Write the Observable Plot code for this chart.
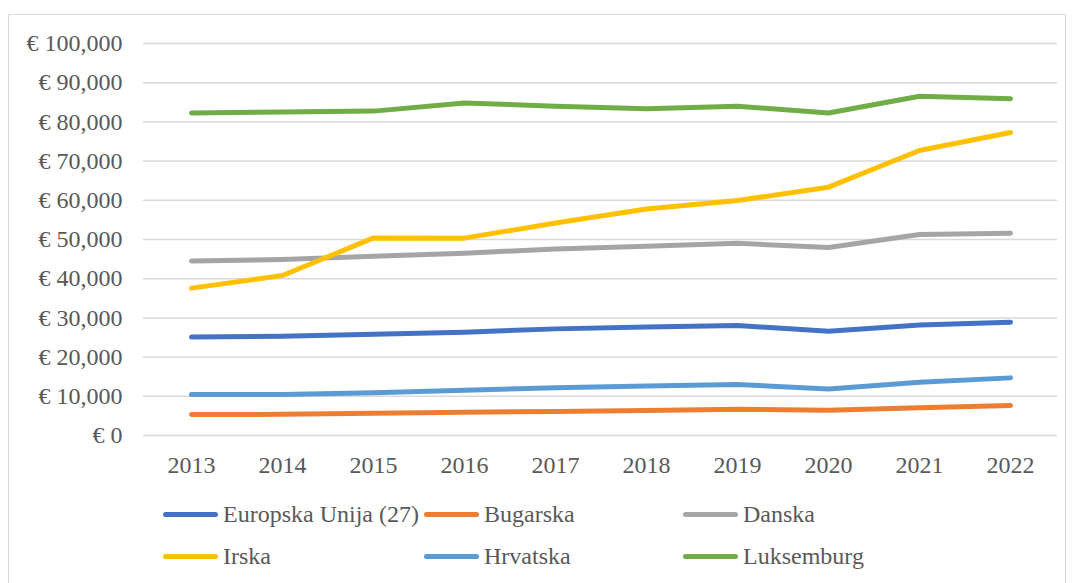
<!DOCTYPE html>
<html>
<head>
<meta charset="utf-8">
<script src="https://cdn.jsdelivr.net/npm/d3@7"></script>
<script src="https://cdn.jsdelivr.net/npm/@observablehq/plot@0.6"></script>
<style>
  html, body { margin: 0; padding: 0; background: #fff; }
  #wrap { position: relative; width: 1072px; height: 583px; overflow: hidden; font-family: 'Liberation Serif', 'Times New Roman', serif; color: #595959; }
  #frame { position: absolute; left: 8px; top: 14px; width: 1058px; height: 600px; border: 1px solid #d9d9d9; box-sizing: border-box; }
  #chart { position: absolute; left: 0; top: 0; }
  #chart svg text { font-family: 'Liberation Serif', 'Times New Roman', serif; }
  .leg { position: absolute; display: flex; align-items: center; font-size: 24px; line-height: 1; white-space: nowrap; height: 24px; }
  .sw { width: 55px; height: 5px; border-radius: 3px; margin-right: 5px; }
</style>
</head>
<body>
<div id="wrap">
  <div id="frame"></div>
  <div id="chart"></div>
  <div id="legend"></div>
</div>
<script>
const years = [2013, 2014, 2015, 2016, 2017, 2018, 2019, 2020, 2021, 2022];
const names = ["Europska Unija (27)", "Bugarska", "Danska", "Irska", "Hrvatska", "Luksemburg"];
const colors = ["#4472C4", "#ED7D31", "#A5A5A5", "#FFC000", "#5B9BD5", "#70AD47"];
const eu27 = [25100, 25350, 25800, 26350, 27200, 27700, 28050, 26600, 28200, 28900];
const bugarska = [5350, 5400, 5700, 5950, 6150, 6400, 6700, 6450, 7050, 7650];
const danska = [44500, 44900, 45700, 46500, 47600, 48300, 49050, 47950, 51300, 51600];
const irska = [37600, 40800, 50400, 50350, 54200, 57800, 59950, 63350, 72700, 77300];
const hrvatska = [10450, 10450, 10900, 11550, 12150, 12600, 13000, 11850, 13600, 14700];
const luksemburg = [82300, 82500, 82750, 84850, 84000, 83350, 84000, 82250, 86550, 85900];
const yTicks = [0, 10000, 20000, 30000, 40000, 50000, 60000, 70000, 80000, 90000, 100000];

const seriesValues = [eu27, bugarska, danska, irska, hrvatska, luksemburg];
const data = names.flatMap((n, si) => years.map((y, i) => ({year: y, value: seriesValues[si][i], name: n})));

const fmt = d3.format(",");
const chart = Plot.plot({
  width: 1072,
  height: 480,
  marginLeft: 143,
  marginRight: 15,
  marginTop: 43,
  marginBottom: 45,
  style: {fontFamily: "'Liberation Serif', 'Times New Roman', serif", fontSize: "24px", color: "#595959", background: "transparent", overflow: "visible"},
  x: {type: "point", domain: years, padding: 0.5},
  y: {domain: [0, 100000]},
  color: {domain: names, range: colors},
  marks: [
    Plot.gridY(yTicks, {stroke: "#d9d9d9", strokeOpacity: 1, strokeWidth: 1.5}),
    Plot.axisY(yTicks, {tickSize: 0, tickPadding: 21, tickFormat: d => "€ " + fmt(d), label: null, fontSize: 24}),
    Plot.axisX({tickSize: 0, tickPadding: 20, tickFormat: d => String(d), label: null, fontSize: 24}),
    Plot.line(data, {x: "year", y: "value", z: "name", stroke: "name", strokeWidth: 5, strokeLinecap: "round", strokeLinejoin: "round"})
  ]
});
document.getElementById("chart").appendChild(chart);

const legendPos = [[163, 514], [424, 514], [683, 514], [163, 556], [424, 556], [683, 556]];
const leg = document.getElementById("legend");
names.forEach((n, i) => {
  const d = document.createElement("div");
  d.className = "leg";
  d.style.left = legendPos[i][0] + "px";
  d.style.top = (legendPos[i][1] - 12) + "px";
  const sw = document.createElement("div");
  sw.className = "sw";
  sw.style.background = colors[i];
  const t = document.createElement("span");
  t.textContent = n;
  d.appendChild(sw);
  d.appendChild(t);
  leg.appendChild(d);
});
</script>
</body>
</html>
